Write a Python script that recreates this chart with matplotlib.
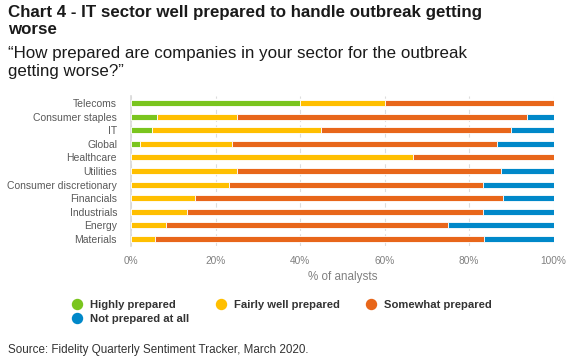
import matplotlib
matplotlib.use("Agg")
import matplotlib.pyplot as plt
from matplotlib.lines import Line2D
import numpy as np

plt.rcParams['font.family'] = ['Liberation Sans', 'DejaVu Sans']

categories = ["Telecoms", "Consumer staples", "IT", "Global", "Healthcare", "Utilities",
              "Consumer discretionary", "Financials", "Industrials", "Energy", "Materials"]
highly = [40.0, 6.25, 5.0, 2.1, 0.0, 0.0, 0.0, 0.0, 0.0, 0.0, 0.0]
fairly = [20.0, 18.75, 40.0, 21.7, 66.7, 25.0, 23.3, 15.2, 13.3, 8.3, 5.6]
somewhat = [40.0, 68.75, 45.0, 62.9, 33.3, 62.5, 60.0, 72.7, 70.0, 66.7, 77.8]
notprep = [0.0, 6.25, 10.0, 13.3, 0.0, 12.5, 16.7, 12.1, 16.7, 25.0, 16.7]
series_names = ["Highly prepared", "Fairly well prepared", "Somewhat prepared", "Not prepared at all"]
xticks = [0, 20, 40, 60, 80, 100]
xticklabels = ["0%", "20%", "40%", "60%", "80%", "100%"]

colors = ["#7AC51E", "#FFBF00", "#E8661A", "#0088C9"]

W, H = 573, 364
fig = plt.figure(figsize=(W / 100, H / 100), dpi=100)
ax = fig.add_axes([131 / W, 1 - 245.8 / H, (553.7 - 131) / W, (245.8 - 96.2) / H])

y = np.arange(len(categories))
left = np.zeros(len(categories))
for vals, c, name in zip([highly, fairly, somewhat, notprep], colors, series_names):
    v = np.array(vals)
    ax.barh(y, v, left=left, height=0.45, color=c, edgecolor="white", linewidth=0.6,
            label=name, zorder=3)
    left += v

ax.set_ylim(len(categories) - 0.5, -0.5)
ax.set_xlim(0, 100)
ax.set_yticks(y)
ax.set_yticklabels(categories, fontsize=7.5, color="#595959")
ax.set_xticks(xticks)
ax.set_xticklabels(xticklabels, fontsize=7.3, color="#808080")
ax.tick_params(axis="both", length=0)
ax.tick_params(axis="y", pad=10)
ax.tick_params(axis="x", pad=7)
ax.set_xlabel("% of analysts", fontsize=8.4, color="#808080", labelpad=4)
for s in ["top", "right", "bottom"]:
    ax.spines[s].set_visible(False)
ax.spines["left"].set_color("#d9d9d9")
ax.spines["left"].set_linewidth(1.2)
ax.xaxis.grid(True, color="#dddddd", linestyle=(0, (4, 3)), linewidth=0.8, zorder=0)
ax.set_axisbelow(True)

handles = [Line2D([], [], marker="o", linestyle="none", markersize=7.2, markerfacecolor=c,
                  markeredgecolor=c) for c in colors]
order = [0, 3, 1, 2]
fig.legend([handles[i] for i in order], [series_names[i] for i in order],
           loc="upper left", bbox_to_anchor=(71.5 / W, 1 - 299.5 / H), ncol=3, frameon=False,
           prop={"weight": "bold", "size": 8.1}, labelcolor="#333333",
           handletextpad=0.66, columnspacing=2.3, labelspacing=0.4, handlelength=1.0,
           borderpad=0, borderaxespad=0)

fig.text(8 / W, 1 - 5.5 / H, "Chart 4 - IT sector well prepared to handle outbreak getting\nworse",
         fontsize=12.2, fontweight="bold", color="#1a1a1a", va="top", ha="left",
         linespacing=1.16)
fig.text(8 / W, 1 - 46 / H, "\u201cHow prepared are companies in your sector for the outbreak\ngetting worse?\u201d",
         fontsize=12.2, color="#1a1a1a", va="top", ha="left", linespacing=1.28)
fig.text(8 / W, 1 - 350 / H, "Source: Fidelity Quarterly Sentiment Tracker, March 2020.",
         fontsize=8.4, color="#333333", va="center", ha="left")

fig.savefig("out.png", dpi=100)
